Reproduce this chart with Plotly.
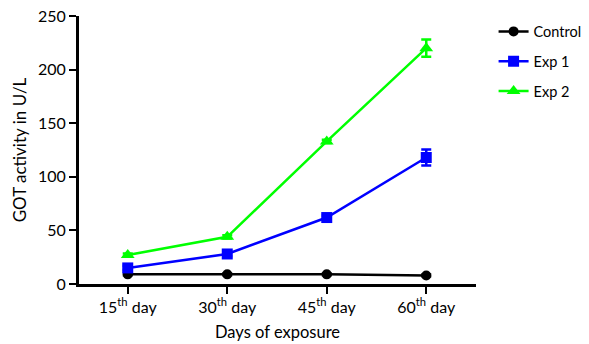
import plotly.graph_objects as go

categories = ["15<sup>th</sup> day", "30<sup>th</sup> day", "45<sup>th</sup> day", "60<sup>th</sup> day"]
control = [9, 9, 9, 8]
control_err = [1, 1, 1, 1]
exp1 = [15, 28, 62, 118]
exp1_err = [2, 2, 2, 7.5]
exp2 = [27, 44, 133, 220]
exp2_err = [1.5, 1.5, 1.5, 8]
y_ticks = [0, 50, 100, 150, 200, 250]

xpos = list(range(len(categories)))
FONT = "Lato"

fig = go.Figure()
fig.add_trace(go.Scatter(x=xpos, y=control, name="Control", mode="lines+markers", legendgroup="a",
                         line=dict(color="black", width=2.5),
                         marker=dict(symbol="circle", size=10, color="black"),
                         error_y=dict(type="data", array=control_err, color="black", thickness=2, width=5)))
fig.add_trace(go.Scatter(x=xpos, y=exp1, name="Exp 1", mode="lines+markers", legendgroup="b",
                         line=dict(color="#0000ff", width=2.5),
                         marker=dict(symbol="square", size=11, color="#0000ff"),
                         error_y=dict(type="data", array=exp1_err, color="#0000ff", thickness=2.5, width=5)))
fig.add_trace(go.Scatter(x=xpos, y=exp2, name="Exp 2", mode="lines+markers", legendgroup="c",
                         line=dict(color="#00ff00", width=2.5),
                         marker=dict(symbol="triangle-up", size=12, color="#00ff00"),
                         error_y=dict(type="data", array=exp2_err, color="#00ff00", thickness=2.5, width=5)))

fig.update_layout(
    width=589, height=344,
    margin=dict(l=79, r=113, t=16, b=60),
    paper_bgcolor="white", plot_bgcolor="white",
    font=dict(family=FONT, size=16, color="black"),
    showlegend=True,
    legend=dict(xref="container", yref="container", x=0.838, y=0.955,
                xanchor="left", yanchor="top",
                font=dict(family=FONT, size=14.5), tracegroupgap=8,
                bgcolor="rgba(0,0,0,0)"),
    xaxis=dict(range=[-0.49, 3.5], tickmode="array", tickvals=xpos, ticktext=categories,
               showgrid=False, zeroline=False, showline=True, linecolor="black", linewidth=3,
               ticks="outside", ticklen=7, tickwidth=2, tickcolor="black", automargin=False,
               tickfont=dict(family=FONT, size=16),
               title=dict(text="Days of exposure", font=dict(family=FONT, size=16.5), standoff=12)),
    yaxis=dict(range=[0, 250], tickmode="array", tickvals=y_ticks,
               showgrid=False, zeroline=False, showline=True, linecolor="black", linewidth=3,
               ticks="outside", ticklen=7, tickwidth=2, tickcolor="black", automargin=False,
               tickfont=dict(family=FONT, size=16),
               title=dict(text="GOT activity in U/L", font=dict(family=FONT, size=17), standoff=8)),
)
fig.write_html("out.html")
